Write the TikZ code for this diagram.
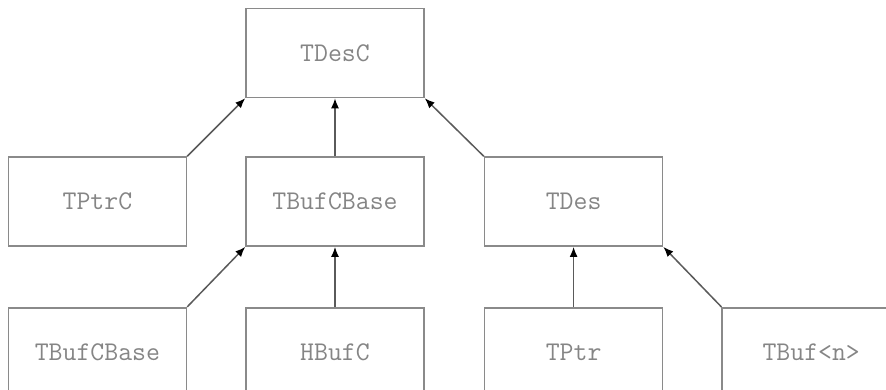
\documentclass[tikz,border=0pt]{standalone}
\usepackage{xcolor}
\usetikzlibrary{positioning, arrows.meta}

\definecolor{boxgray}{HTML}{8A8A8A}
\definecolor{textgray}{HTML}{858585}
\definecolor{linegray}{HTML}{5A5A5A}

\begin{document}
\begin{tikzpicture}[
        x=1pt, y=1pt,
        node distance=58pt and 58pt,
        every node/.style={font=\ttfamily\fontsize{27}{29}\selectfont, text=textgray},
        box/.style={draw=boxgray, line width=1.6pt, rectangle, minimum height=89pt, minimum width=178pt, inner sep=0pt, align=center},
        inherit/.style={-{Latex[length=10pt, width=8pt, color=black]}, draw=linegray, line width=1.5pt}
    ]

    \path[use as bounding box, clip] (0,0) rectangle (886,389);

    \node[box] (desc) at (335,336) {TDesC};

    \node[box, below=of desc] (bufcbase) {TBufCBase};
    \node[box, left=of bufcbase] (ptrc) {TPtrC};
    \node[box, right=59pt of bufcbase] (des) {TDes};

    \node[box, below=60pt of ptrc] (bufcbase_b) {TBufCBase};
    \node[box, below=60pt of bufcbase] (hbufc) {HBufC};
    \node[box, below=60pt of des] (ptr) {TPtr};
    \node[box, right=of ptr] (buf) {TBuf<n>};

    \draw[inherit] (ptrc.north east) -- (desc.south west);
    \draw[inherit] (bufcbase.north) -- (desc.south);
    \draw[inherit] (des.north west) -- (desc.south east);

    \draw[inherit] (bufcbase_b.north east) -- (bufcbase.south west);
    \draw[inherit] (hbufc.north) -- (bufcbase.south);
    \draw[inherit] (ptr.north) -- (des.south);
    \draw[inherit] (buf.north west) -- (des.south east);

\end{tikzpicture}
\end{document}
